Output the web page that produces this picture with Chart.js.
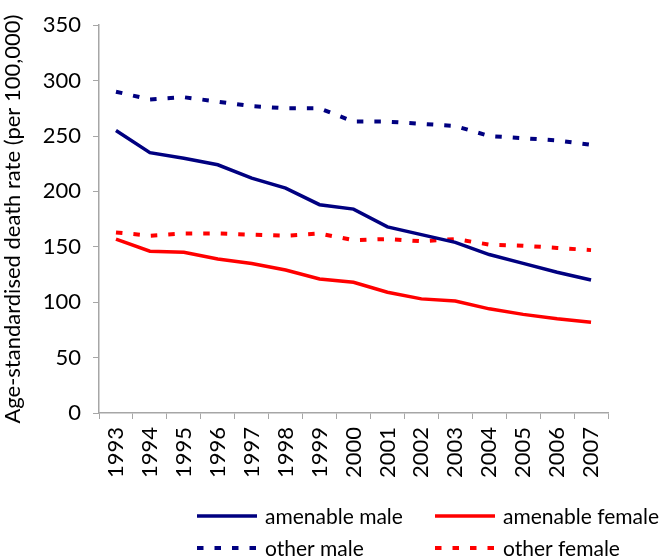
<!DOCTYPE html>
<html>
<head>
<meta charset="utf-8">
<script src="https://cdn.jsdelivr.net/npm/chart.js@4.4.1/dist/chart.umd.min.js"></script>
<style>
  html, body { margin: 0; padding: 0; background: #fff; }
  #wrap { width: 663px; height: 560px; }
</style>
</head>
<body>
<div id="wrap"><canvas id="chart" width="663" height="560"></canvas></div>
<script>
const years = ['1993', '1994', '1995', '1996', '1997', '1998', '1999', '2000',
  '2001', '2002', '2003', '2004', '2005', '2006', '2007'];
const amenableMale = [255, 235, 230, 224, 212, 203, 188, 184, 168, 161, 154, 143, 135, 127, 120];
const amenableFemale = [157, 146, 145, 139, 135, 129, 121, 118, 109, 103, 101, 94, 89, 85, 82];
const otherMale = [290, 283, 285, 281, 277, 275, 275, 263, 263, 261, 259, 250, 248, 246, 242];
const otherFemale = [163, 160, 162, 162, 161, 160, 162, 156, 157, 155, 157, 152, 151, 149, 147];
const yMax = 350;
const yStep = 50;

const navy = '#000080';
const red = '#ff0000';
const axisGrey = '#a6a6a6';
const font = 'Lato, "Open Sans", sans-serif';

// legend drawn as a 2x2 grid like the original
const gridLegend = {
  id: 'gridLegend',
  afterDraw(chart) {
    const ctx = chart.ctx;
    const cols = [197, 435];
    const rows = [516, 548];
    ctx.save();
    ctx.font = '21px ' + font;
    ctx.textBaseline = 'middle';
    ctx.fillStyle = '#000';
    chart.data.datasets.forEach((ds, i) => {
      const x = cols[i % 2];
      const y = rows[Math.floor(i / 2)];
      ctx.beginPath();
      ctx.strokeStyle = ds.borderColor;
      ctx.lineWidth = ds.borderWidth;
      ctx.setLineDash(ds.borderDash || []);
      ctx.moveTo(x, y);
      ctx.lineTo(x + 60, y);
      ctx.stroke();
      ctx.setLineDash([]);
      ctx.fillText(ds.label, x + 68, y + 1);
    });
    ctx.restore();
  }
};

new Chart(document.getElementById('chart'), {
  type: 'line',
  data: {
    labels: years,
    datasets: [
      { label: 'amenable male', data: amenableMale, borderColor: navy, borderWidth: 3.5 },
      { label: 'amenable female', data: amenableFemale, borderColor: red, borderWidth: 3.5 },
      { label: 'other male', data: otherMale, borderColor: navy, borderWidth: 4, borderDash: [6.5, 11] },
      { label: 'other female', data: otherFemale, borderColor: red, borderWidth: 4, borderDash: [6.5, 11] }
    ]
  },
  options: {
    responsive: false,
    animation: false,
    elements: { point: { radius: 0 }, line: { tension: 0, fill: false } },
    layout: { padding: { top: 21, right: 55, bottom: 57, left: 0 } },
    plugins: {
      legend: { display: false },
      tooltip: { enabled: false }
    },
    scales: {
      x: {
        offset: true,
        grid: { offset: true, drawOnChartArea: false, drawTicks: true, tickLength: 6, color: axisGrey },
        border: { color: axisGrey, width: 1.5 },
        ticks: { color: '#000', font: { family: font, size: 22 }, minRotation: 90, maxRotation: 90, padding: 8, autoSkip: false },
        afterFit(scale) { scale.height = 90; }
      },
      y: {
        min: 0,
        max: yMax,
        grid: { drawOnChartArea: false, drawTicks: true, tickLength: 6, color: axisGrey },
        border: { color: axisGrey, width: 1.5 },
        ticks: { stepSize: yStep, color: '#000', font: { family: font, size: 22 }, padding: 12 },
        title: {
          display: true,
          text: 'Age-standardised death rate (per 100,000)',
          color: '#000',
          font: { family: font, size: 22 },
          padding: { top: 0, bottom: 0 }
        },
        afterFit(scale) { scale.width = 99; }
      }
    }
  },
  plugins: [gridLegend]
});
</script>
</body>
</html>
